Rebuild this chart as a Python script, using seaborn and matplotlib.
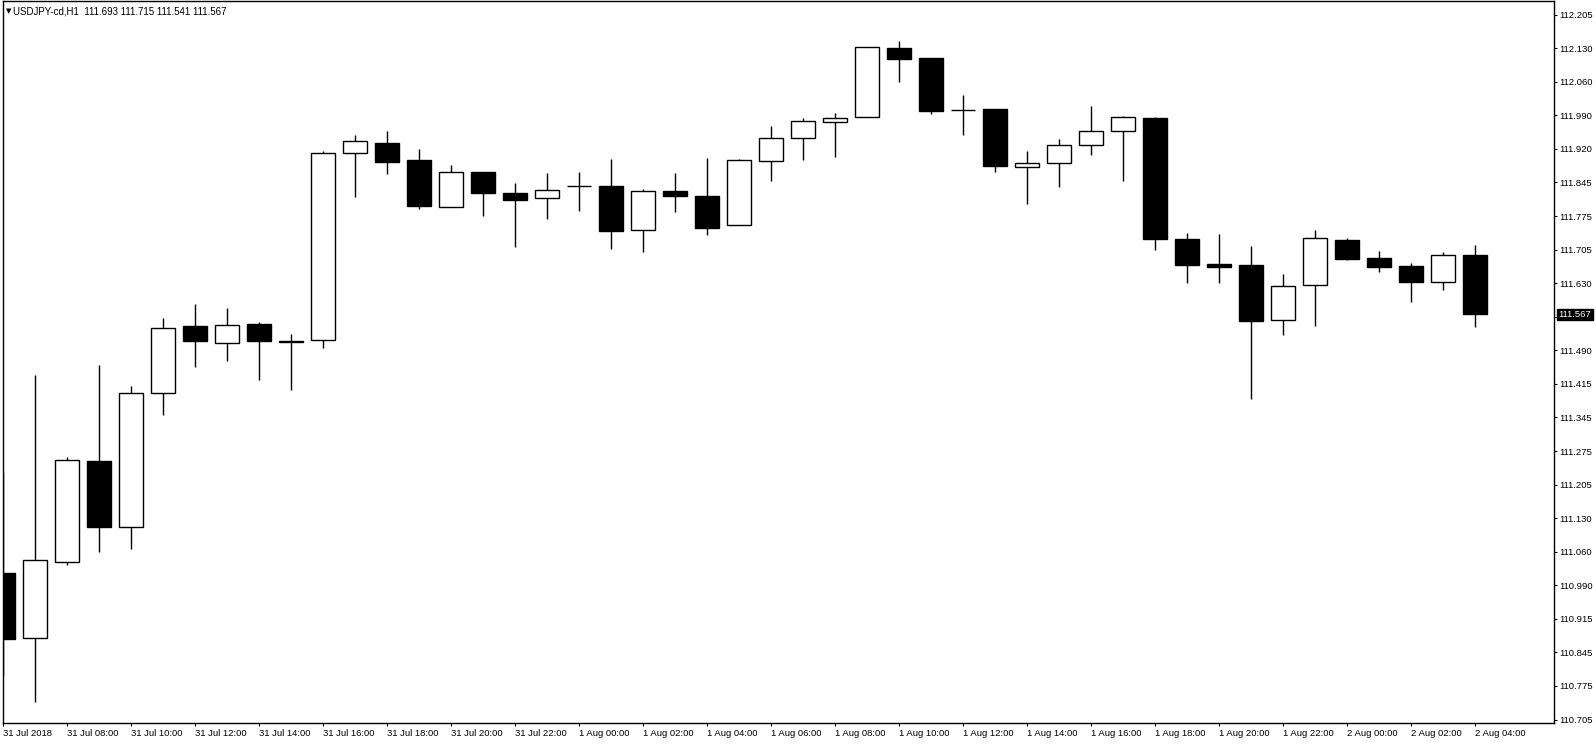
import numpy as np
import pandas as pd
import matplotlib
matplotlib.use('Agg')
import matplotlib.pyplot as plt
import matplotlib.transforms as mtransforms
import seaborn as sns

# USDJPY H1 candles, 31 Jul 2018 06:00 - 2 Aug 2018 04:00
opens = [111.016, 110.878, 111.041, 111.255, 111.114, 111.399, 111.542, 111.506, 111.547, 111.510,
         111.512, 111.910, 111.931, 111.895, 111.795, 111.870, 111.825, 111.814, 111.840, 111.840,
         111.746, 111.829, 111.819, 111.757, 111.893, 111.942, 111.976, 111.987, 112.134, 112.112,
         112.001, 112.004, 111.880, 111.889, 111.927, 111.957, 111.985, 111.728, 111.675, 111.672,
         111.555, 111.629, 111.725, 111.687, 111.670, 111.636, 111.693]
highs = [111.232, 111.438, 111.264, 111.460, 111.415, 111.560, 111.589, 111.581, 111.551, 111.526,
         111.915, 111.948, 111.958, 111.919, 111.885, 111.870, 111.846, 111.868, 111.870, 111.897,
         111.834, 111.868, 111.899, 111.897, 111.968, 111.985, 111.995, 112.136, 112.149, 112.112,
         112.034, 112.004, 111.915, 111.941, 112.011, 111.990, 111.988, 111.741, 111.738, 111.713,
         111.653, 111.747, 111.730, 111.702, 111.676, 111.699, 111.715]
lows = [110.797, 110.743, 111.034, 111.062, 111.067, 111.352, 111.456, 111.469, 111.428, 111.407,
        111.496, 111.816, 111.865, 111.792, 111.795, 111.777, 111.711, 111.771, 111.788, 111.707,
        111.699, 111.784, 111.737, 111.757, 111.852, 111.896, 111.903, 111.987, 112.062, 111.994,
        111.949, 111.871, 111.801, 111.839, 111.907, 111.852, 111.704, 111.633, 111.633, 111.388,
        111.524, 111.543, 111.682, 111.658, 111.594, 111.618, 111.541]
closes = [110.876, 111.044, 111.257, 111.114, 111.399, 111.538, 111.511, 111.544, 111.511, 111.509,
          111.910, 111.936, 111.892, 111.797, 111.870, 111.826, 111.810, 111.831, 111.840, 111.745,
          111.829, 111.818, 111.752, 111.895, 111.942, 111.978, 111.985, 112.136, 112.111, 111.999,
          112.001, 111.882, 111.889, 111.927, 111.957, 111.987, 111.728, 111.673, 111.667, 111.554,
          111.627, 111.729, 111.684, 111.669, 111.637, 111.693, 111.567]

x_labels = ['31 Jul 2018', '31 Jul 08:00', '31 Jul 10:00', '31 Jul 12:00', '31 Jul 14:00',
            '31 Jul 16:00', '31 Jul 18:00', '31 Jul 20:00', '31 Jul 22:00', '1 Aug 00:00',
            '1 Aug 02:00', '1 Aug 04:00', '1 Aug 06:00', '1 Aug 08:00', '1 Aug 10:00',
            '1 Aug 12:00', '1 Aug 14:00', '1 Aug 16:00', '1 Aug 18:00', '1 Aug 20:00',
            '1 Aug 22:00', '2 Aug 00:00', '2 Aug 02:00', '2 Aug 04:00']
# the 111.560 level sits under the last-price box, so it has no label
y_labels = ['110.705', '110.775', '110.845', '110.915', '110.990', '111.060', '111.130',
            '111.205', '111.275', '111.345', '111.415', '111.490', '', '111.630',
            '111.705', '111.775', '111.845', '111.920', '111.990', '112.060', '112.130', '112.205']

title = 'USDJPY-cd,H1  111.693 111.715 111.541 111.567'
last_price = 111.567

df = pd.DataFrame({'open': opens, 'high': highs, 'low': lows, 'close': closes})
df['bar'] = range(len(df))
df['bottom'] = df[['open', 'close']].min(axis=1)
df['height'] = (df.close - df.open).abs()
df['bear'] = df.close < df.open

sns.set_theme(style='white')
plt.rcParams['font.family'] = ['Liberation Sans', 'DejaVu Sans']

fig = plt.figure(figsize=(15.96, 7.44), dpi=100)
ax = fig.add_axes([2.7 / 1596, 20.7 / 744, 1551.6 / 1596, 722.3 / 744])

ax.vlines(df.bar, df.low, df.high, color='black', linewidth=1, zorder=1)
colors = np.where(df.bear, 'black', 'white')
ax.bar(df.bar, df.height, bottom=df.bottom, width=0.75, color=colors,
       edgecolor='black', linewidth=1, zorder=2)

ax.set_xlim(-0.02, 48.47)
ax.set_ylim(110.697, 112.234)

ax.set_xticks(range(0, len(df), 2))
ax.set_xticklabels(x_labels, fontsize=6.8, color='black', ha='left')
ax.set_yticks(np.linspace(110.705, 112.205, len(y_labels)))
ax.set_yticklabels(y_labels, fontsize=6.8, color='black')
ax.yaxis.tick_right()
ax.tick_params(axis='both', direction='out', length=2.2, width=0.8, color='black',
               bottom=True, right=True, left=False)
ax.tick_params(axis='x', pad=2)
ax.tick_params(axis='y', pad=1.5)
for s in ax.spines.values():
    s.set_color('black')
    s.set_linewidth(1)

tr = mtransforms.blended_transform_factory(ax.transAxes, ax.transData)
ax.text(1.0027, last_price, f'{last_price:.3f}', transform=tr, fontsize=6.8, color='white',
        va='center', ha='left', clip_on=False, zorder=5,
        bbox=dict(facecolor='black', edgecolor='black', pad=1.0))

fig.text(5.5 / 1596, 1 - 11 / 744, '\u25bc', fontsize=5, family='DejaVu Sans',
         va='center', ha='left', color='black')
fig.text(12.7 / 1596, 1 - 11 / 744, title, fontsize=7, va='center', ha='left', color='black')

fig.savefig('out.png', dpi=100, facecolor='white')
